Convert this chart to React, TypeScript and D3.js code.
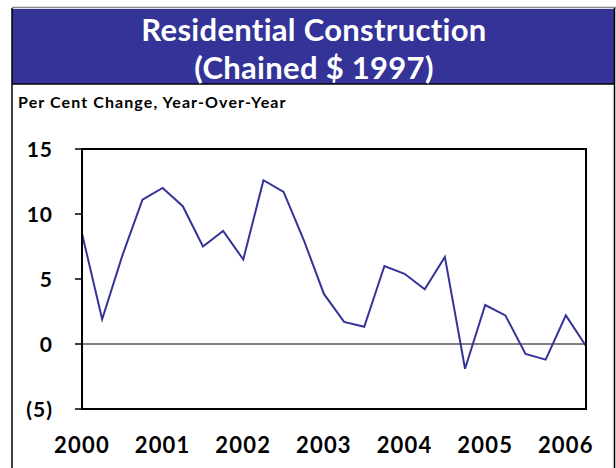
import React from "react";
import * as d3 from "d3";

const years = ["2000", "2001", "2002", "2003", "2004", "2005", "2006"];
const quarters = [
  "2000Q1","2000Q2","2000Q3","2000Q4",
  "2001Q1","2001Q2","2001Q3","2001Q4",
  "2002Q1","2002Q2","2002Q3","2002Q4",
  "2003Q1","2003Q2","2003Q3","2003Q4",
  "2004Q1","2004Q2","2004Q3","2004Q4",
  "2005Q1","2005Q2","2005Q3","2005Q4",
  "2006Q1","2006Q2",
];
const values = [
  8.5, 1.9, 6.8, 11.1,
  12.0, 10.6, 7.5, 8.7,
  6.5, 12.6, 11.7, 8.0,
  3.85, 1.7, 1.33, 6.0,
  5.4, 4.2, 6.7, -1.9,
  3.0, 2.2, -0.77, -1.2,
  2.2, -0.15,
];
const yTicks = [15, 10, 5, 0, -5];

const W = 616;
const H = 468;
const plot = { left: 82, right: 586, top: 149, bottom: 409 };
const BLUE = "#343498";
const FONT = "Lato, 'Open Sans', sans-serif";

export default function App() {
  const x = d3
    .scalePoint<string>()
    .domain(quarters)
    .range([plot.left, plot.right]);
  const y = d3.scaleLinear().domain([-5, 15]).range([plot.bottom, plot.top]);
  const line = d3
    .line<number>()
    .x((_, i) => x(quarters[i]) as number)
    .y((d) => y(d));

  const fmt = (v: number) => (v < 0 ? `(${Math.abs(v)})` : `${v}`);

  return (
    <svg
      width={W}
      height={H}
      style={{ position: "absolute", left: 0, top: 0, background: "#fff", fontVariantLigatures: "none" }}
      fontFamily={FONT}
    >
      {/* outer frame */}
      <line x1={12} x2={616} y1={7.5} y2={7.5} stroke="#888" strokeWidth={1.5} />
      <rect x={12} y={9} width={602} height={75} fill={BLUE} />
      <line x1={12} x2={614} y1={84} y2={84} stroke="#000" strokeWidth={1.5} />
      <line x1={12} x2={12} y1={8} y2={H} stroke="#000" strokeWidth={1.5} />
      <line x1={614.5} x2={614.5} y1={8} y2={H} stroke="#000" strokeWidth={1.5} />

      {/* title */}
      <text x={314} y={41} textAnchor="middle" fill="#fff" fontSize={31} fontWeight={700} letterSpacing={0.3}>
        Residential Construction
      </text>
      <text x={314} y={79} textAnchor="middle" fill="#fff" fontSize={31} fontWeight={700} letterSpacing={0.3}>
        (Chained $ 1997)
      </text>
      <text x={18} y={108} fill="#000" fontSize={16} fontWeight={700} letterSpacing={1.1}>
        Per Cent Change, Year-Over-Year
      </text>

      {/* zero line */}
      <line x1={plot.left} x2={plot.right} y1={y(0)} y2={y(0)} stroke="#000" strokeWidth={1} />

      {/* data line */}
      <path d={line(values) ?? ""} fill="none" stroke={BLUE} strokeWidth={2} strokeLinejoin="miter" />

      {/* plot frame */}
      <rect
        x={plot.left}
        y={plot.top}
        width={plot.right - plot.left}
        height={plot.bottom - plot.top}
        fill="none"
        stroke="#000"
        strokeWidth={2}
      />

      {/* y axis ticks & labels */}
      {yTicks.map((t) => (
        <g key={t}>
          <line x1={plot.left - 7} x2={plot.left} y1={y(t)} y2={y(t)} stroke="#000" strokeWidth={1.5} />
          <text
            x={53}
            y={y(t)}
            dy="0.36em"
            textAnchor="end"
            fontSize={21}
            fontWeight={700}
            letterSpacing={1}
            fill="#000"
          >
            {fmt(t)}
          </text>
        </g>
      ))}

      {/* x labels */}
      {years.map((yr) => (
        <text
          key={yr}
          x={x(`${yr}Q1`) as number}
          y={453}
          textAnchor="middle"
          fontSize={22}
          fontWeight={700}
          letterSpacing={1.2}
          fill="#000"
        >
          {yr}
        </text>
      ))}
    </svg>
  );
}
